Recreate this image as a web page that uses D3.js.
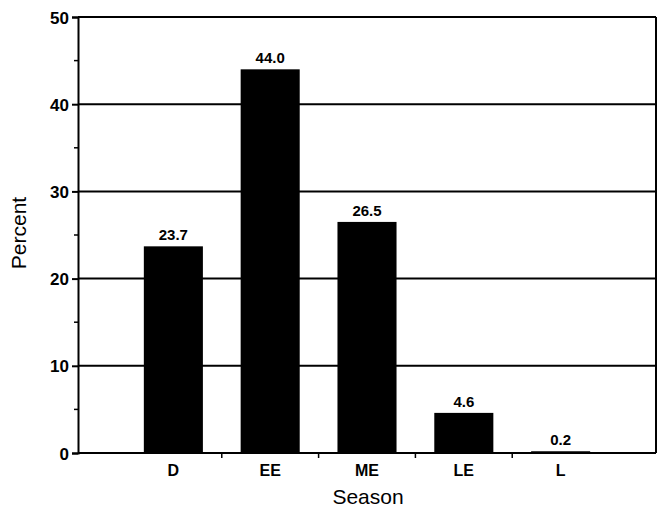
<!DOCTYPE html>
<html lang="en">
<head>
  <meta charset="UTF-8" />
  <title>Percent by Season</title>
  <script src="https://d3js.org/d3.v7.min.js"></script>
  <style>
    body { margin: 0; background: #fff; }
    svg { display: block; font-family: "Liberation Sans", Arial, Helvetica, sans-serif; }
    .tick-label { font-size: 17px; font-weight: bold; }
    .cat-label { font-size: 16px; font-weight: bold; }
    .val-label { font-size: 15px; font-weight: bold; }
    .axis-title { font-size: 21px; }
  </style>
</head>
<body>
  <svg id="chart"></svg>
  <script>
    // data
    const seasons = ["D", "EE", "ME", "LE", "L"];
    const percents = [23.7, 44.0, 26.5, 4.6, 0.2];
    const valueLabels = ["23.7", "44.0", "26.5", "4.6", "0.2"];
    const yTicks = [0, 10, 20, 30, 40, 50];
    const yMinorTicks = [5, 15, 25, 35, 45];

    const width = 657;
    const height = 511;
    const plotLeft = 78, plotRight = 656, plotTop = 17, plotBottom = 453;

    const svg = d3.select("#chart")
      .attr("width", width)
      .attr("height", height);

    const x = d3.scaleBand()
      .domain(seasons)
      .range([plotLeft, plotRight])
      .paddingInner(0.39)
      .paddingOuter(0.68);

    const y = d3.scaleLinear()
      .domain([0, 50])
      .range([plotBottom, plotTop]);

    // grid lines (the top one doubles as the frame)
    svg.selectAll(".grid")
      .data(yTicks.filter(d => d > 0))
      .enter()
      .append("line")
      .attr("x1", plotLeft)
      .attr("x2", plotRight)
      .attr("y1", d => y(d))
      .attr("y2", d => y(d))
      .attr("stroke", "#000")
      .attr("stroke-width", 2);

    // right border
    svg.append("line")
      .attr("x1", plotRight).attr("x2", plotRight)
      .attr("y1", y(50)).attr("y2", y(0))
      .attr("stroke", "#000").attr("stroke-width", 2);

    // bars
    svg.selectAll(".bar")
      .data(percents)
      .enter()
      .append("rect")
      .attr("x", (d, i) => x(seasons[i]))
      .attr("width", x.bandwidth())
      .attr("y", d => y(d))
      .attr("height", d => Math.max(2, y(0) - y(d)))
      .attr("fill", "#000");

    // value labels
    svg.selectAll(".val-label")
      .data(percents)
      .enter()
      .append("text")
      .attr("class", "val-label")
      .attr("x", (d, i) => x(seasons[i]) + x.bandwidth() / 2)
      .attr("y", d => y(d) - 6)
      .attr("text-anchor", "middle")
      .text((d, i) => valueLabels[i]);

    // y axis
    const yAxis = d3.axisLeft(y)
      .tickValues(yTicks)
      .tickSize(6)
      .tickPadding(3)
      .tickFormat(d3.format("d"));
    const gy = svg.append("g")
      .attr("transform", `translate(${plotLeft},0)`)
      .call(yAxis);
    gy.select(".domain").attr("stroke-width", 2);
    gy.selectAll(".tick line").attr("stroke-width", 2);
    gy.selectAll(".tick text")
      .attr("class", "tick-label")
      .attr("fill", "#000")
      .attr("dy", "0.36em")
      .style("font-family", "inherit");

    svg.selectAll(".minor")
      .data(yMinorTicks)
      .enter()
      .append("line")
      .attr("x1", plotLeft - 4)
      .attr("x2", plotLeft)
      .attr("y1", d => y(d))
      .attr("y2", d => y(d))
      .attr("stroke", "#000")
      .attr("stroke-width", 1.5);

    // x axis line
    svg.append("line")
      .attr("x1", plotLeft).attr("x2", plotRight)
      .attr("y1", y(0)).attr("y2", y(0))
      .attr("stroke", "#000").attr("stroke-width", 2);

    // ticks between categories
    const step = x.step();
    const gapHalf = (step - x.bandwidth()) / 2;
    svg.selectAll(".xtick")
      .data(seasons.slice(1))
      .enter()
      .append("line")
      .attr("x1", d => x(d) - gapHalf)
      .attr("x2", d => x(d) - gapHalf)
      .attr("y1", y(0))
      .attr("y2", y(0) + 5)
      .attr("stroke", "#000")
      .attr("stroke-width", 1.5);

    svg.selectAll(".cat-label")
      .data(seasons)
      .enter()
      .append("text")
      .attr("class", "cat-label")
      .attr("x", d => x(d) + x.bandwidth() / 2)
      .attr("y", 476)
      .attr("text-anchor", "middle")
      .text(d => d);

    // axis titles
    svg.append("text")
      .attr("class", "axis-title")
      .attr("x", 368)
      .attr("y", 504)
      .attr("text-anchor", "middle")
      .text("Season");

    svg.append("text")
      .attr("class", "axis-title")
      .attr("transform", "translate(26,233) rotate(-90)")
      .attr("text-anchor", "middle")
      .text("Percent");
  </script>
</body>
</html>
